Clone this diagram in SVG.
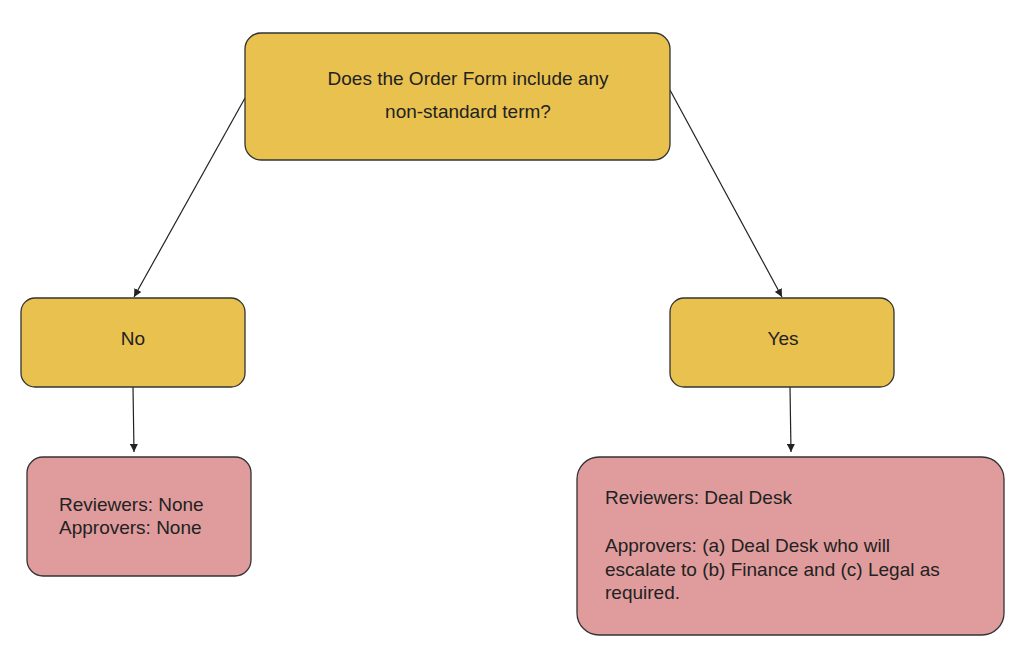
<svg xmlns="http://www.w3.org/2000/svg" width="1022" height="650" viewBox="0 0 1022 650">
<defs>
<style>
.y{fill:#E9C14F;stroke:#333;stroke-width:1.3}
.p{fill:#E09C9C;stroke:#333;stroke-width:1.3}
text{font-family:"Liberation Sans",Arial,sans-serif;font-size:19px;fill:#222}
.c{text-anchor:middle}
.e{stroke:#222;stroke-width:1.2;fill:none;marker-end:url(#ah)}
</style>
<marker id="ah" viewBox="0 0 10 10" refX="10" refY="5" markerWidth="8" markerHeight="8" markerUnits="userSpaceOnUse" orient="auto">
<path d="M0,0 L10,5 L0,10 z" fill="#222"/>
</marker>
</defs>
<rect width="1022" height="650" fill="#fff"/>
<g id="edges">
<line class="e" x1="245" y1="98" x2="134" y2="297"/>
<line class="e" x1="670" y1="90" x2="782" y2="297"/>
<line class="e" x1="133" y1="387" x2="134" y2="452"/>
<line class="e" x1="790" y1="387" x2="791" y2="452"/>
</g>
<g id="question">
<rect class="y" x="245" y="33" width="425" height="127" rx="16"/>
<text class="c" x="468" y="85">Does the Order Form include any</text>
<text class="c" x="468" y="118">non-standard term?</text>
</g>
<g id="no">
<rect class="y" x="21" y="298" width="224" height="89" rx="14"/>
<text class="c" x="133" y="345">No</text>
</g>
<g id="yes">
<rect class="y" x="670" y="298" width="224" height="89" rx="14"/>
<text class="c" x="783" y="345">Yes</text>
</g>
<g id="no-result">
<rect class="p" x="27" y="457" width="224" height="119" rx="16"/>
<text x="59" y="511">Reviewers: None</text>
<text x="59" y="534">Approvers: None</text>
</g>
<g id="yes-result">
<rect class="p" x="577" y="457" width="427" height="178" rx="22"/>
<text x="605" y="504">Reviewers: Deal Desk</text>
<text x="605" y="552">Approvers: (a) Deal Desk who will</text>
<text x="605" y="576">escalate to (b) Finance and (c) Legal as</text>
<text x="605" y="599">required.</text>
</g>
</svg>
